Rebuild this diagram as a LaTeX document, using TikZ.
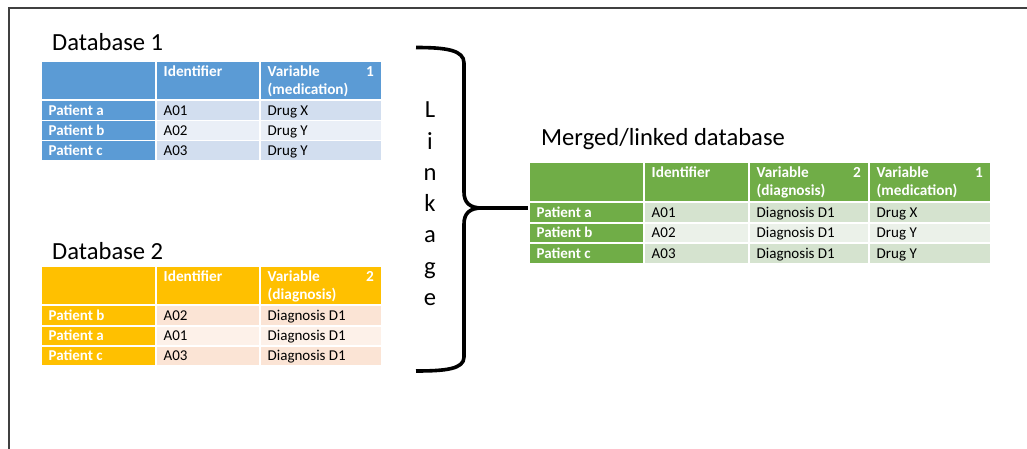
\documentclass[tikz,border=0pt]{standalone}
\usepackage{fontspec}
\setmainfont{Carlito}

\definecolor{blueHead}{HTML}{5B9BD5}
\definecolor{blueRowA}{HTML}{D2DEEF}
\definecolor{blueRowB}{HTML}{EAEFF7}
\definecolor{goldHead}{HTML}{FFC000}
\definecolor{goldRowA}{HTML}{FBE4D5}
\definecolor{goldRowB}{HTML}{FDF1E9}
\definecolor{greenHead}{HTML}{70AD47}
\definecolor{greenRowA}{HTML}{D5E3CF}
\definecolor{greenRowB}{HTML}{EBF1E9}
\definecolor{frameGray}{HTML}{404040}

\tikzset{
  cellbox/.style={rectangle, draw=none, inner sep=0pt, outer sep=0pt},
  celltext/.style={inner sep=0pt, font=\fontsize{15}{18}\selectfont, text=black},
  patienttext/.style={inner sep=0pt, font=\fontsize{15}{18}\selectfont\bfseries, text=white},
  headtext/.style={inner sep=0pt, font=\fontsize{15.3}{18}\selectfont\bfseries, text=white},
  titletext/.style={inner sep=0pt, font=\fontsize{24.6}{29}\selectfont, text=black},
  bracket/.style={line width=3.6pt, black},
}

% a filled table cell: name, x1, y1, x2, y2, colour
\newcommand\mkcell[6]{%
  \node[cellbox, fill=#6, minimum width={#4-#2}, minimum height={#5-#3}]
    (#1) at ({(#2+#4)/2},{(#3+#5)/2}) {};}
% text of a body cell, set on a baseline near the cell bottom
\newcommand\bodytext[3][celltext]{%
  \node[#1, anchor=base west] (#2-t) at ([xshift=6.5pt,yshift=4.5pt]#2.south west) {#3};}
% one-line header text
\newcommand\headone[2]{%
  \node[headtext, anchor=base west] (#1-a) at ([xshift=6.5pt,yshift=-14.5pt]#1.north west) {#2};}
% two-line header text with a number at the right
\newcommand\headtwo[4]{%
  \node[headtext, anchor=base west] (#1-a) at ([xshift=6.5pt,yshift=-14.5pt]#1.north west) {#2};
  \node[headtext, anchor=base west] (#1-b) at ([xshift=6.5pt,yshift=-32.5pt]#1.north west) {#3};
  \node[headtext, anchor=base east] (#1-n) at ([xshift=-7pt,yshift=-14.5pt]#1.north east) {#4};}

\begin{document}
\begin{tikzpicture}[x=1pt, y=-1pt]
\useasboundingbox (0,0) rectangle (1027,449);

% frame lines
\coordinate (frTL) at (9,8);
\coordinate (frTR) at (1027,8);
\coordinate (frBL) at (9,449);
\draw[frameGray, line width=1.3pt] (frBL) -- (frTL) -- (frTR);

% ---------------- Database 1 ----------------
\node[titletext, anchor=base west] (title1) at (52,51) {Database 1};
\mkcell{d1h0}{42}{62}{155}{99}{blueHead}
\mkcell{d1h1}{157}{62}{259}{99}{blueHead}
\mkcell{d1h2}{261}{62}{381}{99}{blueHead}
\headone{d1h1}{Identifier}
\headtwo{d1h2}{Variable}{(medication)}{1}

\mkcell{d1r1c0}{42}{101}{155}{120}{blueHead}
\mkcell{d1r1c1}{157}{101}{259}{120}{blueRowA}
\mkcell{d1r1c2}{261}{101}{381}{120}{blueRowA}
\mkcell{d1r2c0}{42}{121.5}{155}{140}{blueHead}
\mkcell{d1r2c1}{157}{121.5}{259}{140}{blueRowB}
\mkcell{d1r2c2}{261}{121.5}{381}{140}{blueRowB}
\mkcell{d1r3c0}{42}{141.5}{155}{160}{blueHead}
\mkcell{d1r3c1}{157}{141.5}{259}{160}{blueRowA}
\mkcell{d1r3c2}{261}{141.5}{381}{160}{blueRowA}
\bodytext[patienttext]{d1r1c0}{Patient a}
\bodytext{d1r1c1}{A01}
\bodytext{d1r1c2}{Drug X}
\bodytext[patienttext]{d1r2c0}{Patient b}
\bodytext{d1r2c1}{A02}
\bodytext{d1r2c2}{Drug Y}
\bodytext[patienttext]{d1r3c0}{Patient c}
\bodytext{d1r3c1}{A03}
\bodytext{d1r3c2}{Drug Y}

% ---------------- Database 2 ----------------
\node[titletext, anchor=base west] (title2) at (52,259) {Database 2};
\mkcell{d2h0}{42}{267}{155}{304}{goldHead}
\mkcell{d2h1}{157}{267}{259}{304}{goldHead}
\mkcell{d2h2}{261}{267}{381}{304}{goldHead}
\headone{d2h1}{Identifier}
\headtwo{d2h2}{Variable}{(diagnosis)}{2}

\mkcell{d2r1c0}{42}{306}{155}{325}{goldHead}
\mkcell{d2r1c1}{157}{306}{259}{325}{goldRowA}
\mkcell{d2r1c2}{261}{306}{381}{325}{goldRowA}
\mkcell{d2r2c0}{42}{326.5}{155}{345}{goldHead}
\mkcell{d2r2c1}{157}{326.5}{259}{345}{goldRowB}
\mkcell{d2r2c2}{261}{326.5}{381}{345}{goldRowB}
\mkcell{d2r3c0}{42}{346.5}{155}{365}{goldHead}
\mkcell{d2r3c1}{157}{346.5}{259}{365}{goldRowA}
\mkcell{d2r3c2}{261}{346.5}{381}{365}{goldRowA}
\bodytext[patienttext]{d2r1c0}{Patient b}
\bodytext{d2r1c1}{A02}
\bodytext{d2r1c2}{Diagnosis D1}
\bodytext[patienttext]{d2r2c0}{Patient a}
\bodytext{d2r2c1}{A01}
\bodytext{d2r2c2}{Diagnosis D1}
\bodytext[patienttext]{d2r3c0}{Patient c}
\bodytext{d2r3c1}{A03}
\bodytext{d2r3c2}{Diagnosis D1}

% ---------------- Linkage bracket ----------------
\foreach \ch [count=\k from 0] in {L,i,n,k,a,g,e}
  \node[titletext, anchor=base] (link\k) at (430,{118+31.2*\k}) {\ch};

\coordinate (brTop) at (416,47.5);
\coordinate (brTip) at (482,208);
\coordinate (brBot) at (416,371);
\draw[bracket] (brTop) .. controls (446,47.5) and (464,50) .. (464,63)
  -- (464,192) .. controls (464,203) and (470,208) .. (brTip)
  .. controls (470,208) and (464,213) .. (464,224)
  -- (464,357) .. controls (464,369) and (446,371) .. (brBot);

% ---------------- Merged database ----------------
\node[titletext, anchor=base west] (title3) at (541,146) {Merged/linked database};
\mkcell{mh0}{530}{163}{643}{201}{greenHead}
\mkcell{mh1}{645}{163}{748}{201}{greenHead}
\mkcell{mh2}{750}{163}{868}{201}{greenHead}
\mkcell{mh3}{870}{163}{990}{201}{greenHead}
\headone{mh1}{Identifier}
\headtwo{mh2}{Variable}{(diagnosis)}{2}
\headtwo{mh3}{Variable}{(medication)}{1}

\mkcell{mr1c0}{530}{203}{643}{222}{greenHead}
\mkcell{mr1c1}{645}{203}{748}{222}{greenRowA}
\mkcell{mr1c2}{750}{203}{868}{222}{greenRowA}
\mkcell{mr1c3}{870}{203}{990}{222}{greenRowA}
\mkcell{mr2c0}{530}{223.5}{643}{242}{greenHead}
\mkcell{mr2c1}{645}{223.5}{748}{242}{greenRowB}
\mkcell{mr2c2}{750}{223.5}{868}{242}{greenRowB}
\mkcell{mr2c3}{870}{223.5}{990}{242}{greenRowB}
\mkcell{mr3c0}{530}{243.5}{643}{262.5}{greenHead}
\mkcell{mr3c1}{645}{243.5}{748}{262.5}{greenRowA}
\mkcell{mr3c2}{750}{243.5}{868}{262.5}{greenRowA}
\mkcell{mr3c3}{870}{243.5}{990}{262.5}{greenRowA}
\bodytext[patienttext]{mr1c0}{Patient a}
\bodytext{mr1c1}{A01}
\bodytext{mr1c2}{Diagnosis D1}
\bodytext{mr1c3}{Drug X}
\bodytext[patienttext]{mr2c0}{Patient b}
\bodytext{mr2c1}{A02}
\bodytext{mr2c2}{Diagnosis D1}
\bodytext{mr2c3}{Drug Y}
\bodytext[patienttext]{mr3c0}{Patient c}
\bodytext{mr3c1}{A03}
\bodytext{mr3c2}{Diagnosis D1}
\bodytext{mr3c3}{Drug Y}

% link from the bracket tip to the merged table
\draw[bracket] (brTip) -- ([xshift=-2pt]brTip -| mr1c0.west);
\end{tikzpicture}
\end{document}
